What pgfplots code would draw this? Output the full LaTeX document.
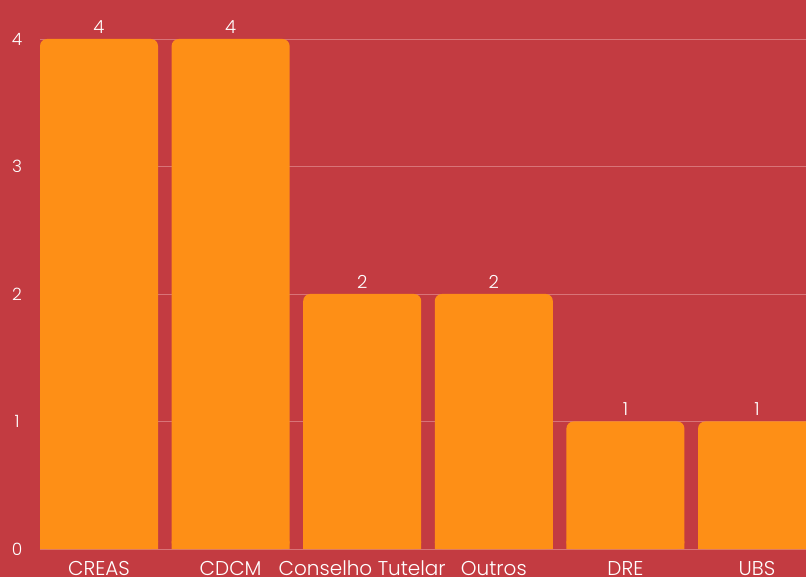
\documentclass[border=0pt]{standalone}
\usepackage{pgfplots}
\pgfplotsset{compat=1.18}
\usepackage{fontspec}
\setmainfont{Poppins}[UprightFont={* Light}]

\definecolor{bg}{RGB}{195,59,65}
\definecolor{barorange}{RGB}{254,143,22}
\definecolor{gridpink}{RGB}{216,116,120}

\begin{document}
\begin{tikzpicture}
\path[fill=bg, use as bounding box] (0,0) rectangle (806bp,577bp);
\begin{axis}[
  at={(40bp,28bp)}, anchor=south west,
  scale only axis, width=766bp, height=510bp,
  xmin=-0.4483, xmax=5.372, ymin=0, ymax=4,
  clip=false,
  axis line style={draw=none},
  major tick length=0pt,
  ymajorgrids, grid style={gridpink, line width=0.8bp},
  ytick={0,1,2,3,4},
  xtick={0,...,5},
  xticklabels={CREAS, CDCM, Conselho Tutelar, Outros, DRE, UBS},
  /pgf/number format/assume math mode=true,
  yticklabel style={anchor=center, xshift=-23bp, text=white, font=\fontsize{17bp}{20bp}\selectfont},
  xticklabel style={anchor=base, yshift=-26bp, text=white, font=\fontsize{20bp}{23bp}\selectfont},
]
% square foot so that only the top corners look rounded
\addplot[ybar, bar width=118bp, bar shift=0pt, fill=barorange, draw=none]
  coordinates {(0,0.06)(1,0.06)(2,0.06)(3,0.06)(4,0.06)(5,0.06)};
\addplot[ybar, bar width=118bp, bar shift=0pt, fill=barorange, draw=none, rounded corners=7bp,
  nodes near coords,
  nodes near coords style={text=white, yshift=2bp, font=\fontsize{18bp}{20bp}\selectfont, /pgf/number format/assume math mode=true}]
  coordinates {(0,4)(1,4)(2,2)(3,2)(4,1)(5,1)};
\end{axis}
\end{tikzpicture}
\end{document}
